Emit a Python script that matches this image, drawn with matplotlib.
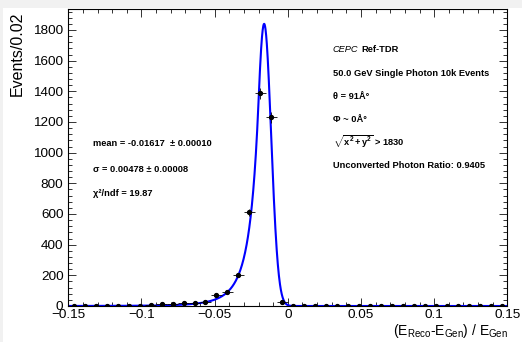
import numpy as np
import matplotlib
matplotlib.use("Agg")
import matplotlib.pyplot as plt
from matplotlib.patches import Rectangle
from matplotlib.ticker import MultipleLocator

# ---- data ----
x_lo, x_hi, n_bins = -0.15, 0.15, 40
counts = [0, 0, 0, 0, 0, 0, 2, 7, 12, 10,
          20, 22, 25, 75, 92, 202, 611, 1387, 1230, 25,
          0, 0, 0, 0, 0, 0, 0, 0, 0, 0,
          0, 0, 0, 0, 0, 0, 0, 0, 0, 0]
# fitted Crystal-Ball curve parameters
fit_mean = -0.01617
fit_sigma = 0.00478
fit_alpha = 0.8
fit_n = 5.0
fit_amp = 1840.0

y_ticks = [0, 200, 400, 600, 800, 1000, 1200, 1400, 1600, 1800]
x_ticks = [-0.15, -0.1, -0.05, 0, 0.05, 0.1, 0.15]
x_tick_labels = ["\u22120.15", "\u22120.1", "\u22120.05", "0", "0.05", "0.1", "0.15"]

left_texts = ["mean = -0.01617  \u00b1 0.00010",
              "\u03c3 = 0.00478 \u00b1 0.00008",
              "\u03c7\u00b2/ndf = 19.87"]
right_texts = ["50.0 GeV Single Photon 10k Events",
               "\u03b8 = 91\u00c5\u00b0",
               "\u03a6 ~ 0\u00c5\u00b0",
               r"$\mathbf{\sqrt{x^2 + y^2}}$ > 1830",
               "Unconverted Photon Ratio: 0.9405"]

# ---- style ----
plt.rcParams["font.family"] = ["Liberation Sans", "DejaVu Sans"]
plt.rcParams["mathtext.fontset"] = "custom"
plt.rcParams["mathtext.rm"] = "Liberation Sans"
plt.rcParams["mathtext.it"] = "Liberation Sans:italic"
plt.rcParams["mathtext.bf"] = "Liberation Sans:bold"

W, H = 522, 342
fig = plt.figure(figsize=(W / 100, H / 100), dpi=100)
fig.patch.set_facecolor("white")

def fx(px):
    return px / W

def fy(py):
    return 1 - py / H

# light grey strips at the edges of the screenshot
fig.patches.append(Rectangle((0, fy(8)), 1, 8 / H, transform=fig.transFigure,
                             facecolor="#f1f1f1", edgecolor="none", zorder=0))
fig.patches.append(Rectangle((0, 0), 3 / W, 1, transform=fig.transFigure,
                             facecolor="#f1f1f1", edgecolor="none", zorder=0))

ax_l, ax_r, ax_t, ax_b = 68.3, 507.3, 9.3, 306.0
ax = fig.add_axes([fx(ax_l), fy(ax_b), fx(ax_r) - fx(ax_l), (ax_b - ax_t) / H])

edges = np.linspace(x_lo, x_hi, n_bins + 1)
centers = 0.5 * (edges[:-1] + edges[1:])
half_w = 0.5 * (edges[1] - edges[0])
cnt = np.array(counts, dtype=float)

# fit curve
xs = np.linspace(x_lo, x_hi, 2000)
t = (xs - fit_mean) / fit_sigma
A = (fit_n / fit_alpha) ** fit_n * np.exp(-fit_alpha ** 2 / 2)
B = fit_n / fit_alpha - fit_alpha
core = np.exp(-0.5 * t ** 2)
tail = A * np.power(np.clip(B - t, 1e-9, None), -fit_n)
ys = fit_amp * np.where(t > -fit_alpha, core, tail)
ax.plot(xs, ys, color="#0000ff", lw=1.5, zorder=2)

ax.errorbar(centers, cnt, xerr=half_w, yerr=np.sqrt(cnt), fmt="o", color="black",
            ms=2.8, elinewidth=0.6, capsize=0, zorder=3)

ax.set_xlim(x_lo, x_hi)
ax.set_ylim(0, 1935)
ax.set_xticks(x_ticks)
ax.set_xticklabels(x_tick_labels)
ax.set_yticks(y_ticks)
ax.xaxis.set_minor_locator(MultipleLocator(0.01))
ax.yaxis.set_minor_locator(MultipleLocator(40))
ax.tick_params(which="both", direction="in", top=True, right=True, width=0.7,
               labelsize=9.7, color="#333333")
ax.tick_params(which="major", length=6)
ax.tick_params(which="minor", length=3.2)
ax.tick_params(axis="x", pad=2.5)
ax.tick_params(axis="y", pad=3.5)
for s in ax.spines.values():
    s.set_linewidth(0.8)

fig.text(fx(17.5), fy(12), "Events/0.02", rotation=90, ha="center", va="top",
         fontsize=11.5)
fig.text(fx(508), fy(334.5), r"(E$_{\rm Reco}$-E$_{\rm Gen}$) / E$_{\rm Gen}$",
         ha="right", va="baseline", fontsize=10.0)

# annotations
left_base = [146.5, 171.5, 196.5]
for s, yb in zip(left_texts, left_base):
    fig.text(fx(93.3), fy(yb), s, fontsize=6.7, fontweight="bold",
             ha="left", va="baseline")

fig.text(fx(332.7), fy(51.8), "CEPC", fontsize=6.7, style="italic",
         ha="left", va="baseline")
fig.text(fx(361.7), fy(51.8), "Ref-TDR", fontsize=6.7, fontweight="bold",
         ha="left", va="baseline")
right_base = [75.8, 98.8, 122.0, 145.5, 168.0]
for s, yb in zip(right_texts, right_base):
    fig.text(fx(332.7), fy(yb), s, fontsize=6.7, fontweight="bold",
             ha="left", va="baseline")

fig.savefig("out.png", dpi=100, facecolor=fig.get_facecolor())
